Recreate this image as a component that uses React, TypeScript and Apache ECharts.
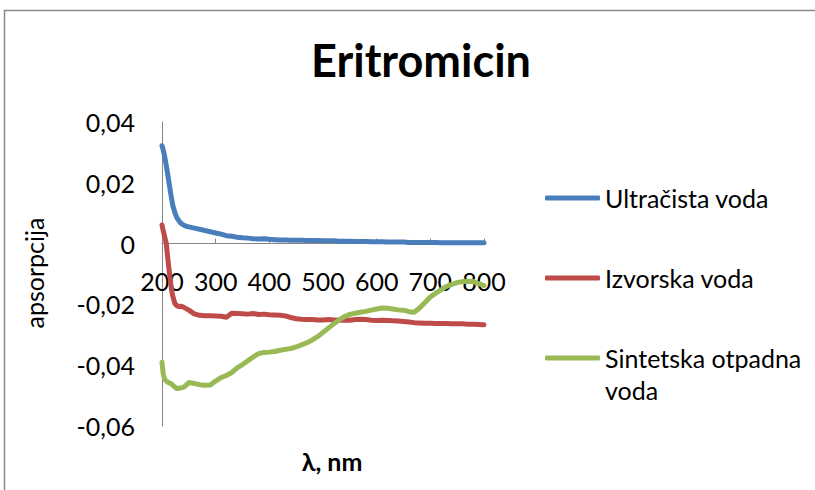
import React, { useEffect, useRef } from "react";
import * as echarts from "echarts";

const titleText = "Eritromicin";
const xAxisTitle = "λ, nm";
const yAxisTitle = "apsorpcija";
const seriesNames = ["Ultračista voda", "Izvorska voda", "Sintetska otpadna voda"];
const seriesColors = ["#4A7EBB", "#BE4B48", "#98B954"];

const wavelengths = [
  200, 202, 204, 206, 208, 210, 212, 214, 216, 218, 220, 224, 228, 232, 236, 240, 245,
  250, 260, 270, 280, 290, 300, 310, 320, 330, 340, 350, 360, 370, 380, 390, 400,
  410, 420, 430, 440, 450, 460, 470, 480, 490, 500, 510, 520, 530, 540, 550, 560,
  570, 580, 590, 600, 610, 620, 630, 640, 650, 660, 670, 680, 690, 700, 710, 720,
  730, 740, 750, 760, 770, 780, 790, 800,
];

const ultracista = [
  0.0322, 0.031, 0.0295, 0.0277, 0.0256, 0.0235, 0.0213, 0.019, 0.0168, 0.0146, 0.0126,
  0.0102, 0.0084, 0.0074, 0.0066, 0.0061, 0.0057,
  0.0055, 0.0051, 0.0047, 0.0043, 0.0039, 0.0035, 0.0031, 0.0026, 0.0024, 0.0021, 0.0019,
  0.0018, 0.0016, 0.0015, 0.0016, 0.0014,
  0.0013, 0.0012, 0.0012, 0.0011, 0.0011, 0.0011, 0.001, 0.001, 0.001, 0.0009, 0.0009,
  0.0009, 0.0008, 0.0008, 0.0008, 0.0007,
  0.0007, 0.0007, 0.0006, 0.0006, 0.0006, 0.0005, 0.0005, 0.0005, 0.0005, 0.0004, 0.0004,
  0.0004, 0.0004, 0.0004, 0.0004, 0.0003,
  0.0003, 0.0003, 0.0003, 0.0003, 0.0003, 0.0003, 0.0003, 0.0003,
];

const izvorska = [
  0.0061, 0.0045, 0.003, 0.0015, 0.0, -0.0035, -0.0068, -0.0098, -0.0128, -0.0154, -0.0172,
  -0.0197, -0.0205, -0.0207, -0.0206, -0.0209, -0.0214,
  -0.0219, -0.0231, -0.0236, -0.0237, -0.0237, -0.0238, -0.0239, -0.0242, -0.0229, -0.023,
  -0.0231, -0.0232, -0.023, -0.0233, -0.0232, -0.0234,
  -0.0235, -0.0236, -0.0238, -0.0243, -0.0247, -0.0249, -0.025, -0.025, -0.0251, -0.0251,
  -0.025, -0.0251, -0.0252, -0.0251, -0.0252, -0.025,
  -0.0249, -0.025, -0.0252, -0.0253, -0.0252, -0.0253, -0.0254, -0.0255, -0.0256, -0.0258,
  -0.026, -0.0261, -0.0262, -0.0262, -0.0263, -0.0263,
  -0.0263, -0.0264, -0.0264, -0.0264, -0.0265, -0.0265, -0.0266, -0.0267,
];

const sintetska = [
  -0.039, -0.0425, -0.0442, -0.0448, -0.0452, -0.0455, -0.0457, -0.0459, -0.046, -0.0462,
  -0.0466, -0.0472, -0.0477, -0.0476, -0.0474, -0.0473, -0.0466,
  -0.0457, -0.046, -0.0464, -0.0466, -0.0465, -0.0452, -0.0441, -0.0434, -0.0424, -0.0409,
  -0.0398, -0.0385, -0.0373, -0.0362, -0.0358, -0.0357,
  -0.0355, -0.0351, -0.0348, -0.0345, -0.034, -0.0333, -0.0326, -0.0317, -0.0306, -0.0292,
  -0.0278, -0.0264, -0.0251, -0.024, -0.0233, -0.0229,
  -0.0226, -0.0223, -0.0219, -0.0215, -0.0212, -0.0213, -0.0215, -0.0218, -0.0219, -0.0224,
  -0.0226, -0.0212, -0.0194, -0.0176, -0.0163, -0.0152,
  -0.0141, -0.0134, -0.0128, -0.0125, -0.0124, -0.0125, -0.0132, -0.0138,
];

const seriesValues = [ultracista, izvorska, sintetska];

const yMin = -0.06;
const yMax = 0.04;

const FONT = "Lato, 'Noto Sans', sans-serif";
const AXIS_GRAY = "#868686";

const GRID_TOP = 122;
const GRID_BOTTOM = 64;
const CHART_H = 490;

export default function App() {
  const ref = useRef<HTMLDivElement>(null);

  useEffect(() => {
    if (!ref.current) return;
    const chart = echarts.init(ref.current, undefined, { renderer: "svg" });

    const plotH = CHART_H - GRID_TOP - GRID_BOTTOM;
    // move the x axis from the bottom of the grid up to the zero line
    const zeroOffset = -plotH * ((0 - yMin) / (yMax - yMin));

    const legendTops = [182, 262, 310];
    const legends = seriesNames.map((name, i) => ({
      show: true,
      data: [name],
      orient: "vertical" as const,
      left: 545,
      top: legendTops[i],
      padding: 0,
      icon: "roundRect",
      itemWidth: 55,
      itemHeight: 5,
      itemGap: 0,
      selectedMode: false,
      formatter: (n: string) =>
        n === "Sintetska otpadna voda" ? "\nSintetska otpadna\nvoda" : n,
      textStyle: {
        fontFamily: FONT,
        fontSize: 25,
        color: "#000",
        lineHeight: 32,
      },
    }));

    chart.setOption({
      animation: false,
      backgroundColor: "#fff",
      title: {
        text: titleText,
        left: 416,
        top: 32,
        textAlign: "center",
        textStyle: { fontFamily: FONT, fontSize: 45, fontWeight: "bold", color: "#000" },
      },
      legend: legends,
      grid: { left: 162, right: 331, top: GRID_TOP, bottom: GRID_BOTTOM, containLabel: false },
      xAxis: {
        type: "value",
        min: 200,
        max: 800,
        interval: 100,
        position: "bottom",
        offset: zeroOffset,
        axisLine: { show: true, onZero: false, lineStyle: { color: AXIS_GRAY, width: 1 } },
        axisTick: { show: true, inside: true, length: 5, lineStyle: { color: AXIS_GRAY } },
        splitLine: { show: false },
        axisLabel: { fontFamily: FONT, fontSize: 25, color: "#000", margin: 25 },
      },
      yAxis: {
        type: "value",
        min: yMin,
        max: yMax,
        interval: 0.02,
        axisLine: { show: true, onZero: false, lineStyle: { color: AXIS_GRAY, width: 1 } },
        axisTick: { show: false },
        splitLine: { show: false },
        axisLabel: {
          fontFamily: FONT,
          fontSize: 25,
          color: "#000",
          margin: 27,
          formatter: (v: number) => (Math.abs(v) < 1e-9 ? "0" : v.toFixed(2).replace(".", ",")),
        },
      },
      graphic: [
        {
          type: "rect",
          shape: { x: 4.5, y: 10.5, width: 900, height: 600 },
          style: { fill: "none", stroke: "#8a8a8a", lineWidth: 1.5 },
          silent: true,
        },
        {
          type: "text",
          x: 34,
          y: 273,
          rotation: Math.PI / 2,
          style: {
            text: yAxisTitle,
            fontFamily: FONT,
            fontSize: 25,
            fill: "#000",
            align: "center",
            verticalAlign: "middle",
          },
        },
        {
          type: "text",
          x: 332,
          y: 461,
          style: {
            text: xAxisTitle,
            fontFamily: FONT,
            fontSize: 25,
            fontWeight: "bold",
            fill: "#000",
            align: "center",
            verticalAlign: "middle",
          },
        },
      ],
      series: seriesNames.map((name, i) => ({
        name,
        type: "line",
        showSymbol: false,
        symbol: "none",
        color: seriesColors[i],
        lineStyle: { width: 5, color: seriesColors[i], cap: "round", join: "round" },
        data: wavelengths.map((w, k) => [w, seriesValues[i][k]]),
      })),
    });

    return () => chart.dispose();
  }, []);

  return (
    <div
      ref={ref}
      style={{ position: "fixed", left: 0, top: 0, width: 815, height: 490 }}
    />
  );
}
